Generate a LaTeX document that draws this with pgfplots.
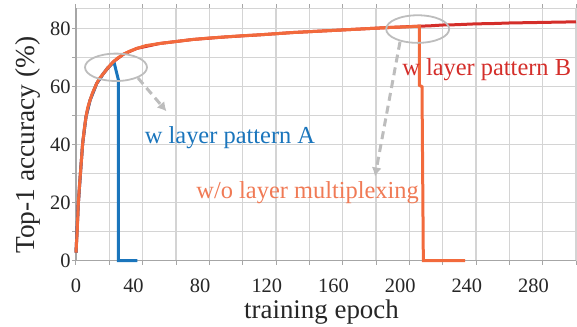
\documentclass[border=0pt]{standalone}
\usepackage{pgfplots}
\pgfplotsset{compat=1.18}
\usetikzlibrary{arrows.meta}
\usepackage{fontspec}
\setmainfont{Liberation Serif}
\definecolor{cOrange}{HTML}{F26A3C}
\definecolor{cRed}{HTML}{D42E2A}
\definecolor{cBlue}{HTML}{1A75BC}
\definecolor{cText}{HTML}{F07A55}
\definecolor{cGrid}{HTML}{D4D4D4}
\definecolor{cAxis}{HTML}{A6A6A6}
\definecolor{cEll}{HTML}{BDBDBD}
\begin{document}
\begin{tikzpicture}
\begin{axis}[
  scale only axis, width=500bp, height=252bp,
  xmin=0, xmax=300, ymin=0, ymax=87,
  /pgf/number format/assume math mode=true,
  tick label style={font=\fontsize{20.5}{22}\selectfont, text=black!85},
  xtick={0,34.5,74.5,114.5,154.5,194.5,234.5,274.5},
  xticklabels={0,40,80,120,160,200,240,280},
  minor xtick={0,20,...,300},
  ytick={0,20,...,80},
  minor ytick={0,10,...,80},
  xmajorgrids=false, ymajorgrids=false,
  xminorgrids=true, yminorgrids=true,
  minor grid style={cGrid, line width=1.2bp},
  major tick length=0pt, minor tick length=4bp,
  tick align=outside,
  minor tick style={cAxis, line width=1bp},
  axis line style={draw=cGrid, line width=1.2bp},
  xticklabel style={anchor=base, yshift=-31.5bp},
  yticklabel style={anchor=east, xshift=-2bp},
  xlabel={training epoch},
  ylabel={Top-1 accuracy (\%)},
  every axis x label/.style={at={(axis description cs:0.491,0)}, anchor=base, yshift=-57.5bp, font=\fontsize{27}{29}\selectfont, text=black!85},
  every axis y label/.style={at={(axis description cs:-0.096,0.458)}, rotate=90, anchor=center, font=\fontsize{27.5}{29}\selectfont, text=black!85},
  clip=false,
]
\coordinate (O) at (rel axis cs:0,0);
\draw[cAxis, line width=1.8bp] (rel axis cs:0,1) -- (rel axis cs:0,0) -- (rel axis cs:1,0);
% w layer pattern B
\addplot[cRed, line width=3bp, no markers] coordinates {
(0,2.7) (1.4,19.7) (2.8,31.2) (4,40.4) (6,49.6) (8.4,55.3) (12.4,61.1) (16.4,64.5) (22.4,68.6) (28.4,71.2) (36.4,73.2) (50,74.9) (70,76.3) (90,77.2) (110,77.9) (130,78.7) (150,79.3) (170,79.9) (190,80.5) (206,80.9)
(212,81.0) (220,81.3) (228,81.4) (240,81.7) (250,81.8) (260,82.0) (270,82.1) (280,82.2) (290,82.3) (300,82.4)};
% w layer pattern A
\addplot[cBlue, line width=3bp, no markers] coordinates {
(0,2.7) (1.4,19.7) (2.8,31.2) (4,40.4) (6,49.6) (8.4,55.3) (12.4,61.1) (16.4,64.5) (19,66.5) (22.8,68.5) (25.5,62.2) (25.5,0) (36.8,0)};
% w/o layer multiplexing
\addplot[cOrange, line width=3bp, no markers] coordinates {
(0,2.7) (0.7,10) (1.4,19.7) (2.1,26) (2.8,31.2) (4,40.4) (5,45.5) (6,49.6) (7,52.7) (8.4,55.3) (10,58) (12.4,61.1) (14,62.8) (16.4,64.5) (19,66.5) (22.4,68.6) (25,69.9) (28.4,71.2) (32,72.2) (36.4,73.2) (42,74.2) (50,74.9) (60,75.6) (70,76.3) (80,76.8) (90,77.2) (100,77.6) (110,77.9) (120,78.3) (130,78.7) (140,79.0) (150,79.3) (160,79.6) (170,79.9) (180,80.2) (190,80.5) (200,80.7) (206,80.9)
(206,60.5) (207.6,60.0) (208.4,0) (233.5,0)};
% annotations
\draw[cEll, line width=1.8bp] (axis cs:24,66.7) ellipse [x radius=31bp, y radius=13.7bp];
\draw[cEll, line width=1.8bp] (axis cs:205,79.9) ellipse [x radius=31.5bp, y radius=13.8bp];
\draw[cEll, line width=3bp, dash pattern=on 8bp off 5bp, -{Latex[length=9bp,width=10bp]}] (axis cs:37.2,63.0) -- (axis cs:54.3,51.5);
\draw[cEll, line width=3bp, dash pattern=on 8bp off 5bp, -{Latex[length=9bp,width=10bp]}] (axis cs:194.4,75.5) -- (axis cs:179.4,29.0);
\node[anchor=base, text=cBlue, font=\fontsize{24.5}{26}\selectfont] at (axis cs:92.4,40.5) {w layer pattern A};
\node[anchor=base, text=cText, font=\fontsize{24.5}{26}\selectfont] at (axis cs:139,21.5) {w/o layer multiplexing};
\node[anchor=base, text=cRed, font=\fontsize{24.5}{26}\selectfont] at (axis cs:246.4,64) {w layer pattern B};
\end{axis}
\pgfresetboundingbox
\path[use as bounding box] ([shift={(-76bp,-66.5bp)}]O) rectangle ++(577bp,327bp);
\end{tikzpicture}
\end{document}
